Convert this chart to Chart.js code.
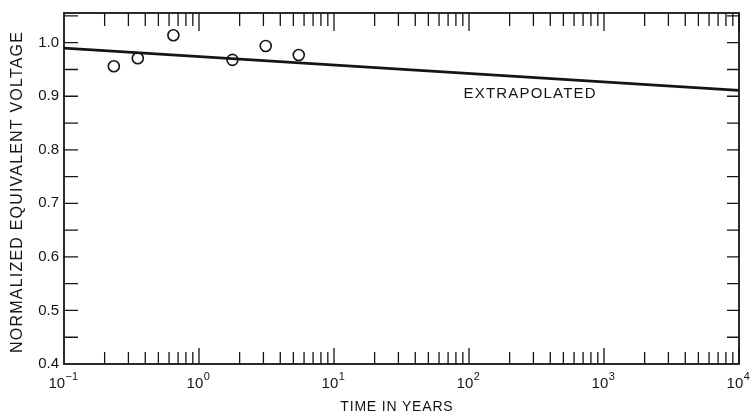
<!DOCTYPE html>
<html>
<head>
<meta charset="utf-8">
<script src="https://cdn.jsdelivr.net/npm/chart.js@4"></script>
<style>
  body { margin: 0; background: #fff; }
</style>
</head>
<body>
<canvas id="voltChart" width="751" height="413"></canvas>
<script>
// measured points (time in years, normalized voltage)
const years = [0.234, 0.352, 0.646, 1.77, 3.12, 5.48];
const voltage = [0.956, 0.971, 1.014, 0.968, 0.994, 0.977];

// extrapolated line end points
const fitYears = [0.1, 10000];
const fitVoltage = [0.990, 0.911];

// axis ticks
const decades = [0.1, 1, 10, 100, 1000, 10000];
const decadeExps = ['\u22121', '0', '1', '2', '3', '4'];
const yTicks = [0.4, 0.5, 0.6, 0.7, 0.8, 0.9, 1.0];
const yMinorTicks = [0.45, 0.55, 0.65, 0.75, 0.85, 0.95, 1.05];

const ink = '#151515';
const fontFam = '"Liberation Sans", Arial, Helvetica, sans-serif';

function spacedText(ctx, txt, x, y, spacing, align) {
  ctx.letterSpacing = spacing + 'px';
  let w = ctx.measureText(txt).width - spacing;
  let sx = align === 'center' ? x - w / 2 : x;
  ctx.textAlign = 'left';
  ctx.fillText(txt, sx, y);
  ctx.letterSpacing = '0px';
}

// frame, inward ticks on all four sides, decade labels and titles
const frameTicks = {
  id: 'frameTicks',
  afterDatasetsDraw(chart) {
    const ctx = chart.ctx;
    const a = chart.chartArea;
    const x = chart.scales.x, y = chart.scales.y;
    ctx.save();
    ctx.strokeStyle = ink;
    ctx.lineWidth = 1.8;
    ctx.strokeRect(a.left, a.top, a.right - a.left, a.bottom - a.top);

    ctx.lineWidth = 1.3;
    ctx.beginPath();
    for (let d = 0; d < decades.length; d++) {
      for (let m = 1; m < 10; m++) {
        const v = decades[d] * m;
        if (v <= decades[0] || v > decades[decades.length - 1]) continue;
        const px = x.getPixelForValue(v);
        const major = m === 1;
        ctx.moveTo(px, a.bottom);
        ctx.lineTo(px, a.bottom - (major ? 16 : 12));
        ctx.moveTo(px, a.top);
        ctx.lineTo(px, a.top + (major ? 18 : 13));
      }
    }
    yTicks.concat(yMinorTicks).forEach(v => {
      if (v <= y.min || v >= y.max) return;
      const py = y.getPixelForValue(v);
      ctx.moveTo(a.left, py);
      ctx.lineTo(a.left + 14, py);
      ctx.moveTo(a.right, py);
      ctx.lineTo(a.right - 12, py);
    });
    ctx.stroke();

    ctx.fillStyle = ink;
    ctx.textBaseline = 'alphabetic';
    // decade labels 10^n
    decades.forEach((v, i) => {
      const px = x.getPixelForValue(v);
      ctx.font = '15px ' + fontFam;
      const wBase = ctx.measureText('10').width;
      ctx.font = '11px ' + fontFam;
      const wExp = ctx.measureText(decadeExps[i]).width;
      const left = px - (wBase + wExp) / 2 - 1;
      ctx.textAlign = 'left';
      ctx.font = '15px ' + fontFam;
      ctx.fillText('10', left, a.bottom + 24);
      ctx.font = '11px ' + fontFam;
      ctx.fillText(decadeExps[i], left + wBase + 0.5, a.bottom + 16);
    });

    ctx.textBaseline = 'middle';
    ctx.font = '15px ' + fontFam;
    spacedText(ctx, 'EXTRAPOLATED', x.getPixelForValue(91), y.getPixelForValue(0.904), 1.2, 'left');

    ctx.font = '14px ' + fontFam;
    spacedText(ctx, 'TIME IN YEARS', (a.left + a.right) / 2 - 5, 407, 0.8, 'center');

    ctx.save();
    ctx.translate(17.5, (a.top + a.bottom) / 2 + 4);
    ctx.rotate(-Math.PI / 2);
    ctx.font = '16px ' + fontFam;
    spacedText(ctx, 'NORMALIZED EQUIVALENT VOLTAGE', 0, 0, 1.2, 'center');
    ctx.restore();
    ctx.restore();
  }
};

function noPad(s) {
  s.paddingTop = 0; s.paddingBottom = 0; s.paddingLeft = 0; s.paddingRight = 0;
}

new Chart(document.getElementById('voltChart').getContext('2d'), {
  type: 'scatter',
  data: {
    datasets: [{
      label: 'Extrapolated',
      type: 'line',
      data: fitYears.map((t, i) => ({ x: t, y: fitVoltage[i] })),
      borderColor: ink,
      borderWidth: 2.7,
      pointRadius: 0,
      fill: false,
      tension: 0
    }, {
      label: 'Measured',
      data: years.map((t, i) => ({ x: t, y: voltage[i] })),
      pointStyle: 'circle',
      pointRadius: 5.5,
      pointBorderWidth: 1.6,
      pointBorderColor: ink,
      pointBackgroundColor: '#fff'
    }]
  },
  options: {
    responsive: false,
    animation: false,
    layout: { padding: { left: 0, top: 13, right: 12, bottom: 0 } },
    plugins: { legend: { display: false }, tooltip: { enabled: false } },
    scales: {
      x: {
        type: 'logarithmic',
        min: 0.1,
        max: 10000,
        afterFit: s => { s.height = 49; noPad(s); },
        afterBuildTicks: s => { s.ticks = decades.map(v => ({ value: v })); },
        grid: { display: false, drawTicks: false },
        border: { display: false },
        ticks: { display: false }
      },
      y: {
        min: 0.4,
        max: 1.0555,
        afterFit: s => { s.width = 64; noPad(s); },
        afterBuildTicks: s => { s.ticks = yTicks.map(v => ({ value: v })); },
        grid: { display: false, drawTicks: false },
        border: { display: false },
        ticks: {
          color: ink,
          font: { family: fontFam, size: 15 },
          padding: 5,
          callback: v => v.toFixed(1)
        }
      }
    }
  },
  plugins: [frameTicks]
});
</script>
</body>
</html>
